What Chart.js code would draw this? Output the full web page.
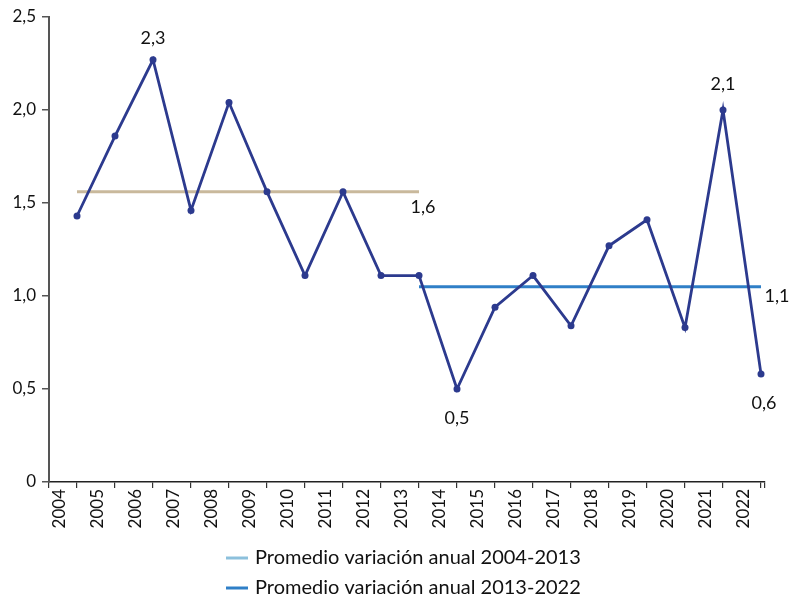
<!DOCTYPE html>
<html><head><meta charset="utf-8">
<script src="https://cdn.jsdelivr.net/npm/chart.js@4.4.0/dist/chart.umd.min.js"></script>
<style>html,body{margin:0;padding:0;background:#fff}#wrap{width:792px;height:597px}</style>
</head><body><div id="wrap"><canvas id="c" width="792" height="597"></canvas></div>
<script>
// ---- data ----
const years = [2004,2005,2006,2007,2008,2009,2010,2011,2012,2013,2014,2015,2016,2017,2018,2019,2020,2021,2022];
const variacion = [1.43,1.86,2.27,1.46,2.04,1.56,1.11,1.56,1.11,1.11,0.50,0.94,1.11,0.84,1.27,1.41,0.83,2.00,0.58];
const promedio1Years = [2004, 2013];
const promedio1Value = 1.56;
const promedio2Years = [2013, 2022];
const promedio2Value = 1.05;
const legendLabels = ['Promedio variación anual 2004-2013', 'Promedio variación anual 2013-2022'];
const yTickValues = [0, 0.5, 1, 1.5, 2, 2.5];
const labelYears = [2006, 2021, 2014, 2022];
const labelTexts = ['2,3', '2,1', '0,5', '0,6'];
const avgLabelTexts = ['1,6', '1,1'];

// ---- styles ----
const FONT = 'Lato, "Open Sans", sans-serif';
const TXT = '#111';
const C_MAIN = '#2c3a8e';
const C_AVG1 = '#c9b99c';
const C_AVG2 = '#2f7fc7';
const C_LEG1 = '#8cc0dc';

const fmt = v => v === 0 ? '0' : v.toFixed(1).replace('.', ',');

const labelPlugin = {
  id: 'valueLabels',
  afterDatasetsDraw(chart) {
    const {ctx, scales: {x, y}} = chart;
    ctx.save();
    ctx.font = '18px ' + FONT;
    ctx.fillStyle = TXT;
    ctx.textAlign = 'center';
    ctx.textBaseline = 'middle';
    const offsets = [[0, -22], [0, -26], [0, 29], [3, 29]];
    labelYears.forEach((yr, i) => {
      const idx = years.indexOf(yr);
      const px = x.getPixelForValue(yr) + offsets[i][0];
      const py = y.getPixelForValue(variacion[idx]) + offsets[i][1];
      ctx.fillText(labelTexts[i], px, py);
    });
    // average labels
    ctx.fillText(avgLabelTexts[0], x.getPixelForValue(promedio1Years[1]) + 4, y.getPixelForValue(promedio1Value) + 15);
    ctx.fillText(avgLabelTexts[1], x.getPixelForValue(promedio2Years[1]) + 16, y.getPixelForValue(promedio2Value) + 9);
    ctx.restore();
  }
};

const legendPlugin = {
  id: 'stackLegend',
  afterDraw(chart) {
    const ctx = chart.ctx;
    ctx.save();
    ctx.font = '20px ' + FONT;
    ctx.fillStyle = TXT;
    ctx.textAlign = 'left';
    ctx.textBaseline = 'middle';
    const cols = [C_LEG1, C_AVG2];
    const rows = [558, 588];
    legendLabels.forEach((t, i) => {
      ctx.strokeStyle = cols[i];
      ctx.lineWidth = 3;
      ctx.beginPath();
      ctx.moveTo(226, rows[i]);
      ctx.lineTo(248, rows[i]);
      ctx.stroke();
      ctx.fillText(t, 255, rows[i]);
    });
    ctx.restore();
  }
};

Chart.defaults.font.family = FONT;
Chart.defaults.font.size = 17;
Chart.defaults.color = TXT;

new Chart(document.getElementById('c'), {
  type: 'line',
  data: {
    datasets: [
      {
        label: legendLabels[0],
        data: promedio1Years.map(v => ({x: v, y: promedio1Value})),
        borderColor: C_AVG1, borderWidth: 3, pointRadius: 0, order: 3
      },
      {
        label: legendLabels[1],
        data: promedio2Years.map(v => ({x: v, y: promedio2Value})),
        borderColor: C_AVG2, borderWidth: 3, pointRadius: 0, order: 2
      },
      {
        label: 'Variación anual',
        data: years.map((yr, i) => ({x: yr, y: variacion[i]})),
        borderColor: C_MAIN, backgroundColor: C_MAIN, borderWidth: 2.8,
        pointRadius: 3.5, pointBackgroundColor: C_MAIN, pointBorderWidth: 0, tension: 0, order: 1
      }
    ]
  },
  options: {
    responsive: false,
    animation: false,
    devicePixelRatio: 1,
    layout: {padding: {top: 17, right: 27, bottom: 65, left: 0}},
    plugins: {legend: {display: false}, tooltip: {enabled: false}},
    scales: {
      x: {
        type: 'linear',
        min: 2003.263,
        max: 2022.105,
        afterBuildTicks: s => { s.ticks = [s.min, ...years, s.max].map(v => ({value: v})); },
        afterFit: s => { s.height = 50; },
        grid: {drawOnChartArea: false, drawTicks: true, tickLength: 6, color: '#333', lineWidth: 1.2},
        border: {display: true, color: '#222', width: 1.5},
        ticks: {
          autoSkip: false, minRotation: 90, maxRotation: 90, padding: 1, labelOffset: -17,
          callback: v => years.includes(v) ? String(v) : ''
        }
      },
      y: {
        min: 0, max: 2.5,
        afterBuildTicks: s => { s.ticks = yTickValues.map(v => ({value: v})); },
        afterFit: s => { s.width = 49; },
        grid: {drawOnChartArea: false, drawTicks: true, tickLength: 7, color: '#555', lineWidth: 1.5},
        border: {display: true, color: '#555', width: 2},
        ticks: {padding: 6, callback: v => fmt(v)}
      }
    }
  },
  plugins: [labelPlugin, legendPlugin]
});
</script>
</body></html>
